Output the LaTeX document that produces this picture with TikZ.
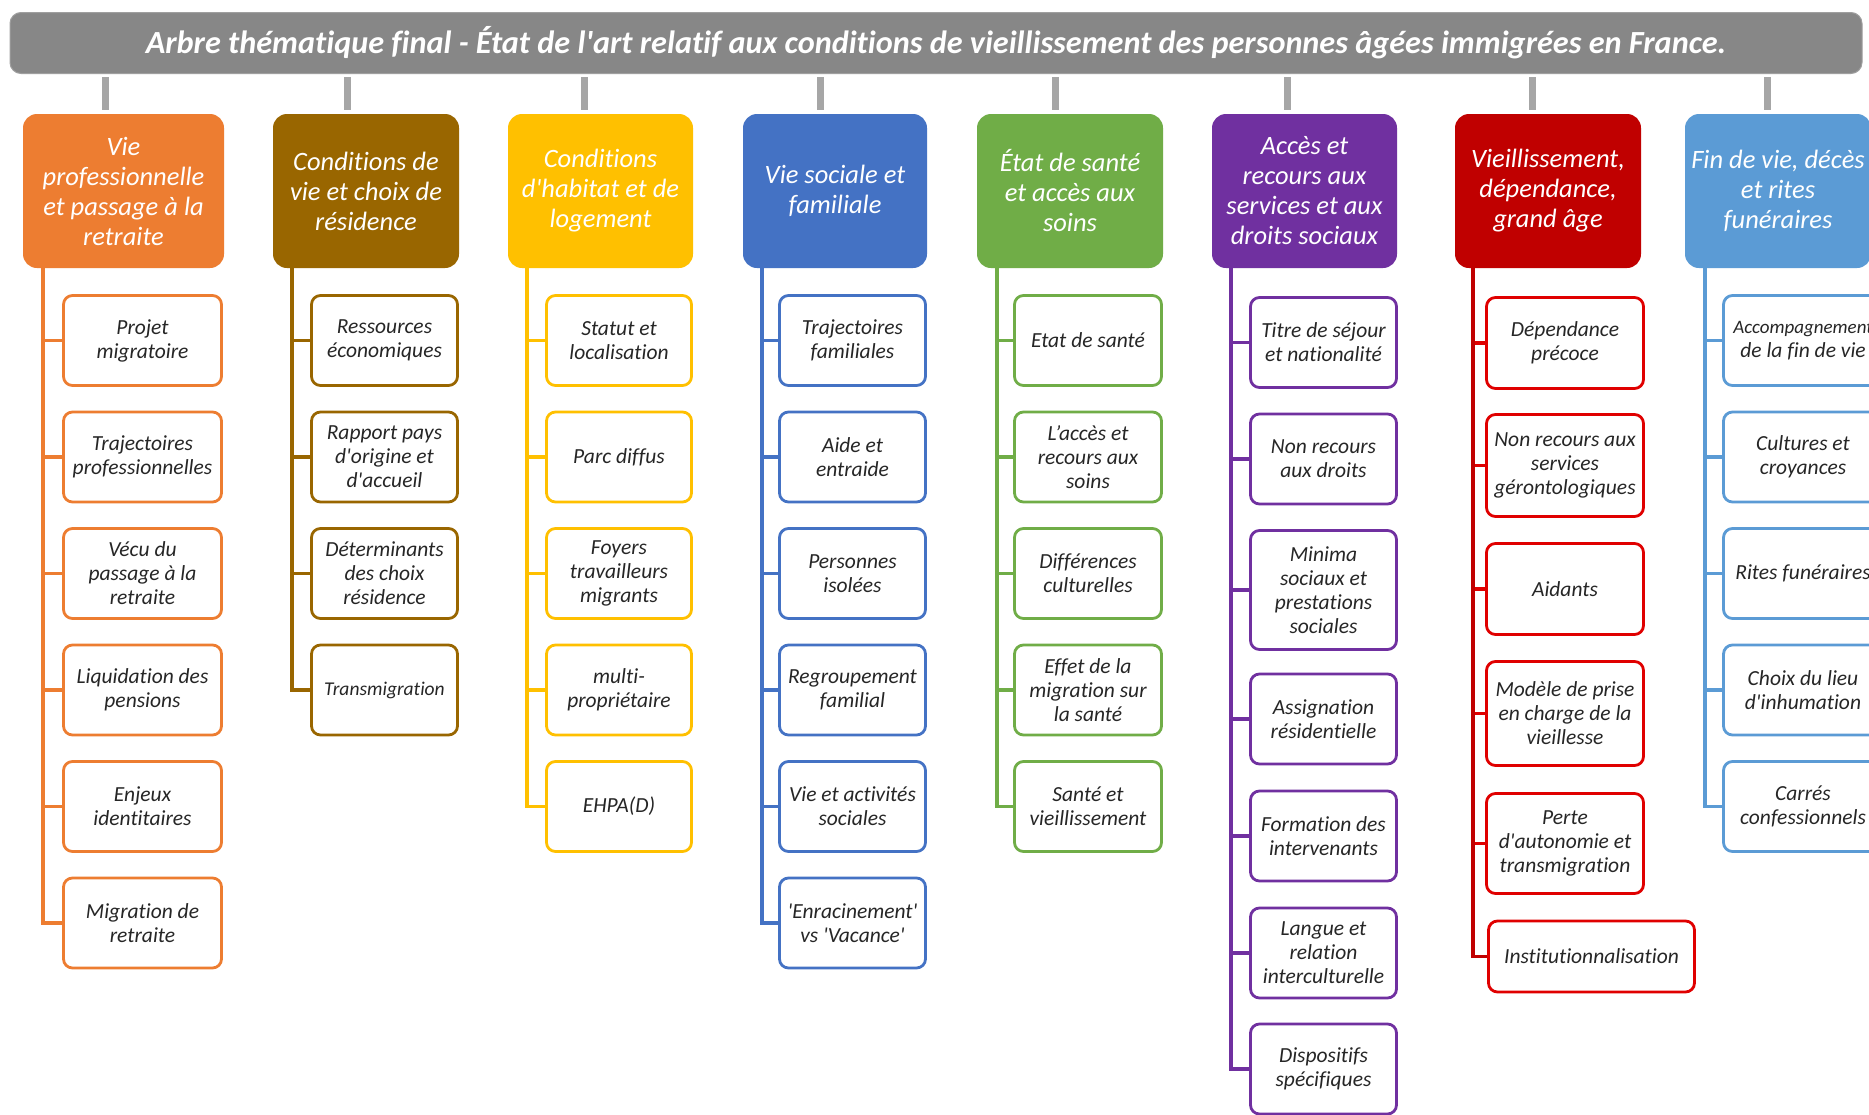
\documentclass[tikz,border=0pt]{standalone}
\usepackage{fontspec}
\setmainfont{Carlito}[Ligatures={TeXOff,CommonOff}]
\usetikzlibrary{calc}
\definecolor{cOr}{HTML}{ED7D31}
\definecolor{cBr}{HTML}{996600}
\definecolor{cYe}{HTML}{FFC000}
\definecolor{cBl}{HTML}{4472C4}
\definecolor{cGr}{HTML}{70AD47}
\definecolor{cPu}{HTML}{7030A0}
\definecolor{cRe}{HTML}{C00000}
\definecolor{cRk}{HTML}{E00000}
\definecolor{cLb}{HTML}{5B9BD5}
\definecolor{cTitle}{HTML}{878787}
\definecolor{cStub}{HTML}{A6A6A6}
\definecolor{cTxt}{HTML}{262626}
\tikzset{
  titlebox/.style={rounded corners=11pt, fill=cTitle, draw=cTitle!80, line width=1pt, text=white,
    minimum width=1852pt, minimum height=61pt, inner sep=0pt},
  headbox/.style={rounded corners=14pt, fill=#1, draw=none, text=white, align=center,
    font=\fontsize{26.5}{30}\selectfont\itshape, minimum height=154pt, inner sep=2pt},
  childbox/.style={rounded corners=9pt, draw=#1, line width=2.8pt, fill=white, text=cTxt,
    align=center, font=\fontsize{21.5}{24}\selectfont\itshape, inner sep=2pt},
  trunk/.style={draw=#1, line width=3.6pt},
  stub/.style={draw=cStub, line width=7pt},
}
\newcommand\kidcol[5]{%
  \foreach \n/\y/\h/\t in {#5}{%
    \node[childbox=#1, minimum width=#4, minimum height=\h] (\n) at (#3,\y) {\t};
    \draw[trunk=#1] (\n.west -| #2) -- (\n.west);
  }%
}
\begin{document}
\begin{tikzpicture}[x=1pt,y=-1pt]
\useasboundingbox (0,0) rectangle (1869,1114);
\clip (0,0) rectangle (1869,1114);
\fill[white] (0,0) rectangle (1869,1114);

% title
\node[titlebox] (title) at (936,43) {\resizebox{1580pt}{!}{\bfseries\itshape Arbre thématique final - État de l'art relatif aux conditions de vieillissement des personnes âgées immigrées en France.}};

% heads
\node[headbox=cOr, minimum width=201pt] (h1) at (123.5,191) {Vie\\professionnelle\\et passage à la\\retraite};
\node[headbox=cBr, minimum width=186pt] (h2) at (366,191) {Conditions de\\vie et choix de\\résidence};
\node[headbox=cYe, minimum width=185pt] (h3) at (600.5,191) {Conditions\\d'habitat et de\\logement};
\node[headbox=cBl, minimum width=184pt] (h4) at (835,191) {Vie sociale et\\familiale};
\node[headbox=cGr, minimum width=186pt] (h5) at (1070,191) {État de santé\\et accès aux\\soins};
\node[headbox=cPu, minimum width=185pt] (h6) at (1304.5,191) {Accès et\\recours aux\\services et aux\\droits sociaux};
\node[headbox=cRe, minimum width=186pt] (h7) at (1548,191) {Vieillissement,\\dépendance,\\grand âge};
\node[headbox=cLb, minimum width=186pt] (h8) at (1778,191) {Fin de vie, décès\\et rites\\funéraires};

% stubs
\foreach \i/\sx in {1/105,2/347,3/584,4/820,5/1055,6/1287,7/1532,8/1767}{
  \coordinate (s\i) at (\sx,74);
  \draw[stub] ([yshift=-3pt]s\i) -- ([yshift=4pt]s\i |- h\i.north);
}

% trunk tops
\coordinate (t1) at (43,268);
\coordinate (t2) at (292,268);
\coordinate (t3) at (527,268);
\coordinate (t4) at (762,268);
\coordinate (t5) at (997,268);
\coordinate (t6) at (1231,268);
\coordinate (t7) at (1473,268);
\coordinate (t8) at (1705,268);

% column 1
\kidcol{cOr}{t1}{142.5}{158pt}{a1/340.5/90pt/{Projet\\migratoire},
  a2/457/90pt/{Trajectoires\\professionnelles},
  a3/573.5/90pt/{Vécu du\\passage à la\\retraite},
  a4/690/90pt/{Liquidation des\\pensions},
  a5/806.5/90pt/{Enjeux\\identitaires},
  a6/923/90pt/{Migration de\\retraite}}
\draw[trunk=cOr] (t1) |- (a6.west);

% column 2
\kidcol{cBr}{t2}{384.5}{146pt}{b1/340.5/90pt/{Ressources\\économiques},
  b2/457/90pt/{Rapport pays\\d'origine et\\d'accueil},
  b3/573.5/90pt/{Déterminants\\des choix\\résidence},
  b4/690/90pt/{\fontsize{19.5}{22}\selectfont Transmigration}}
\draw[trunk=cBr] (t2) |- (b4.west);

% column 3
\kidcol{cYe}{t3}{619}{145pt}{c1/340.5/90pt/{Statut et\\localisation},
  c2/457/90pt/{Parc diffus},
  c3/573.5/90pt/{Foyers\\travailleurs\\migrants},
  c4/690/90pt/{multi-\\propriétaire},
  c5/806.5/90pt/{EHPA(D)}}
\draw[trunk=cYe] (t3) |- (c5.west);

% column 4
\kidcol{cBl}{t4}{852.5}{146pt}{d1/340.5/90pt/{Trajectoires\\familiales},
  d2/457/90pt/{Aide et\\entraide},
  d3/573.5/90pt/{Personnes\\isolées},
  d4/690/90pt/{Regroupement\\familial},
  d5/806.5/90pt/{Vie et activités\\sociales},
  d6/923/90pt/{'Enracinement'\\vs 'Vacance'}}
\draw[trunk=cBl] (t4) |- (d6.west);

% column 5
\kidcol{cGr}{t5}{1088}{147pt}{e1/340.5/90pt/{Etat de santé},
  e2/457/90pt/{L’accès et\\recours aux\\soins},
  e3/573.5/90pt/{Différences\\culturelles},
  e4/690/90pt/{Effet de la\\migration sur\\la santé},
  e5/806.5/90pt/{Santé et\\vieillissement}}
\draw[trunk=cGr] (t5) |- (e5.west);

% column 6
\kidcol{cPu}{t6}{1323.5}{146pt}{f1/342.5/90pt/{Titre de séjour\\et nationalité},
  f2/459/90pt/{Non recours\\aux droits},
  f3/590/119pt/{Minima\\sociaux et\\prestations\\sociales},
  f4/719/90pt/{Assignation\\résidentielle},
  f5/836/90pt/{Formation des\\intervenants},
  f6/953/90pt/{Langue et\\relation\\interculturelle},
  f7/1069/90pt/{Dispositifs\\spécifiques}}
\draw[trunk=cPu] (t6) |- (f7.west);

% column 7
\kidcol{cRk}{t7}{1565}{157pt}{g1/343/91pt/{Dépendance\\précoce},
  g2/465.5/102pt/{Non recours aux\\services\\gérontologiques},
  g3/589/91pt/{Aidants},
  g4/713.5/104pt/{Modèle de prise\\en charge de la\\vieillesse},
  g5/843.5/100pt/{Perte\\d'autonomie et\\transmigration}}
\node[childbox=cRk, minimum width=206pt, minimum height=71pt] (g6) at (1591.5,956.5) {Institutionnalisation};
\draw[trunk=cRe] (t7) |- (g6.west);

% column 8
\kidcol{cLb}{t8}{1803}{159pt}{k1/340.5/90pt/{\fontsize{19}{21.5}\selectfont Accompagnement\\de la fin de vie},
  k2/457/90pt/{Cultures et\\croyances},
  k3/573.5/90pt/{Rites funéraires},
  k4/690/90pt/{Choix du lieu\\d'inhumation},
  k5/806.5/90pt/{Carrés\\confessionnels}}
\draw[trunk=cLb] (t8) |- (k5.west);
\end{tikzpicture}
\end{document}
